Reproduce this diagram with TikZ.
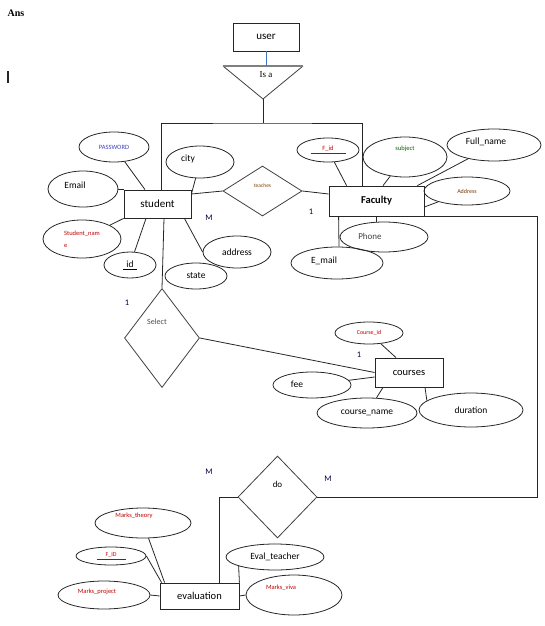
\documentclass[tikz,border=0pt]{standalone}
\usepackage{fontspec}
\setmainfont{Carlito}
\newfontfamily\timesfont{Liberation Serif}
\usetikzlibrary{shapes.geometric}
\definecolor{wordblue}{RGB}{68,114,196}
\begin{document}
\begin{tikzpicture}[x=1pt,y=-1pt,line width=0.8pt,draw=black!85,
    ent/.style={draw,rectangle,inner sep=0pt,font=\fontsize{10.5}{12}\selectfont},
    attr/.style={draw,ellipse,inner sep=0pt,font=\fontsize{9.5}{11}\selectfont},
    rel/.style={draw,diamond,inner sep=0pt,draw=black!75},
    small/.style={font=\fontsize{6.5}{12}\selectfont},
    lbl/.style={font=\fontsize{9.5}{11}\selectfont},
    slbl/.style={font=\fontsize{6.5}{8}\selectfont},
    card/.style={font=\fontsize{8.5}{10}\selectfont,text=blue!25!black}]
    \useasboundingbox (0,0) rectangle (544,626);
    %% heading
    \node[font=\timesfont\bfseries\fontsize{10}{12}\selectfont] (ans) at (16,13) {Ans};
    \draw[line width=2pt] (8,71) -- (8,83);
    %% entities
    \node[ent, minimum width=66, minimum height=28, font=\fontsize{11}{12}\selectfont] (user) at (266,37) {user};
    \node[ent, minimum width=67, minimum height=28, font=\fontsize{11}{12}\selectfont] (student) at (157.5,204) {student};
    \node[ent, minimum width=95, minimum height=30, font=\fontsize{10.5}{12}\selectfont\bfseries] (faculty) at (376.5,201) {Faculty};
    \node[ent, minimum width=68, minimum height=29] (courses) at (409,372.5) {courses};
    \node[ent, minimum width=79, minimum height=26] (evaluation) at (199.5,596) {evaluation};
    %% is a
    \coordinate (isaL) at (223,66);
    \coordinate (isaR) at (303,66);
    \coordinate (isa) at (263,99);
    \draw[black!75] (isaL) -- (isa) -- (isaR);
    \draw[gray, line width=2pt] (isaL) -- (isaR);
    \node[font=\timesfont\fontsize{9}{10}\selectfont] (isatext) at (266,75) {Is a};
    \draw[wordblue] (user.south) -- (user.south |- isaL);
    %% relationships
    \node[rel, minimum width=79, minimum height=50,
        label={[font=\fontsize{5.5}{6}\selectfont, text=orange!50!black, shift={(0,-5)}]center:teaches}] (teaches) at (262.5,191) {};
    \node[rel, minimum width=75, minimum height=99,
        label={[font=\fontsize{8}{9}\selectfont, text=black!70, shift={(-5,-16)}]center:Select}] (select) at (162,338) {};
    \node[rel, minimum width=79, minimum height=82,
        label={[font=\fontsize{9}{10}\selectfont, shift={(0,-13)}]center:do}] (do) at (277.5,497) {};
    %% student attributes
    \node[attr, small, text=blue!50!gray, minimum width=70, minimum height=30] (pwd) at (114,147) {PASSWORD};
    \node[attr, minimum width=70, minimum height=36, label={[lbl, shift={(-8,-4)}]center:Email}] (email) at (83,189) {};
    \node[attr, small, text=red!75!black, align=left, minimum width=78, minimum height=38] (sname) at (82,239) {Student\_nam\\e};
    \node[attr, minimum width=52, minimum height=26] (sid) at (130,265) {\underline{\makebox[14pt]{id}}};
    \node[attr, minimum width=68, minimum height=32, label={[lbl, shift={(-12,-3)}]center:city}] (city) at (200,162) {};
    \node[attr, minimum width=68, minimum height=32] (saddr) at (237,252) {address};
    \node[attr, minimum width=62, minimum height=26] (state) at (196,276) {state};
    %% faculty attributes
    \node[attr, small, text=red!75!black, minimum width=62, minimum height=24] (fid) at (328,150) {\underline{\makebox[35pt]{F\_id}}};
    \node[attr, minimum width=84, minimum height=40, label={[slbl, text=green!40!black, shift={(0,-8)}]center:subject}] (subj) at (405,157) {};
    \node[attr, minimum width=94, minimum height=32, label={[lbl, shift={(-8,-3)}]center:Full\_name}] (fname) at (494,145) {};
    \node[attr, small, text=orange!45!black, font=\fontsize{6}{7}\selectfont, minimum width=86, minimum height=28] (faddr) at (467,191) {Address};
    \node[attr, minimum width=88, minimum height=30, label={[font=\fontsize{9}{10}\selectfont, text=black!75, shift={(-14,-1)}]center:Phone}] (phone) at (384,237) {};
    \node[attr, minimum width=92, minimum height=32, label={[lbl, shift={(-13,-2)}]center:E\_mail}] (fmail) at (337,263) {};
    %% courses attributes
    \node[attr, small, text=red!75!black, font=\fontsize{6}{7}\selectfont, minimum width=68, minimum height=22] (cid) at (369,333) {Course\_id};
    \node[attr, minimum width=78, minimum height=26, label={[lbl, shift={(-15,-1)}]center:fee}] (fee) at (312,385) {};
    \node[attr, minimum width=100, minimum height=30] (cname) at (367,413) {course\_name};
    \node[attr, minimum width=104, minimum height=34] (dur) at (471,410) {duration};
    %% evaluation attributes
    \node[attr, minimum width=96, minimum height=30, label={[slbl, text=red!75!black, shift={(-9,-7)}]center:Marks\_theory}] (mth) at (143,523) {};
    \node[attr, small, text=red!75!black, font=\fontsize{6}{7}\selectfont, minimum width=70, minimum height=18] (fid2) at (111,556) {\underline{\makebox[29pt]{F\_ID}}};
    \node[attr, minimum width=92, minimum height=28, label={[slbl, text=red!75!black, shift={(-7,-3)}]center:Marks\_project}] (mproj) at (104,595) {};
    \node[attr, minimum width=98, minimum height=26] (evt) at (275,557) {Eval\_teacher};
    \node[attr, minimum width=96, minimum height=40, label={[slbl, text=red!75!black, shift={(-13,-7)}]center:Marks\_viva}] (mviva) at (294,595) {};
    %% cardinalities
    \foreach \n/\x/\y/\t in {one1/127/303/1, one2/311/212/1, one3/359/355/1,
                             many1/209/218/M, many2/209/472/M, many3/328/479/M}
        \node[card] (\n) at (\x,\y) {\t};
    %% is a links
    \draw (isa) -- ++(0,24) coordinate (split);
    \draw ([xshift=3.5]student.north) |- (split) -| ([xshift=-14.5]faculty.north);
    %% relationship links
    \draw ([yshift=10]student.east) -- (teaches.west);
    \draw (teaches.east) -- ([yshift=7]faculty.west);
    \draw ([xshift=6.5]student.south) -- (select.north);
    \draw (select.east) -- (courses.west);
    \draw (faculty.south east) -- ++(113,0) |- (do.east);
    \draw (do.west) -| ([xshift=19.5]evaluation.north);
    %% attribute links
    \draw (pwd) -- ([xshift=-12.5]student.north);
    \draw (email.east) -- (email.east -| student.west);
    \draw (sname) -- (student.south west);
    \draw (sid) -- ([xshift=-11.5]student.south);
    \draw (city) -- ([yshift=10]student.east);
    \draw ([xshift=-7]student.south east) -- (saddr.west);
    \draw (fid) -- ([xshift=18]faculty.north west);
    \draw (subj) -- ([xshift=6.5]faculty.north);
    \draw (fname) -- ([xshift=-7]faculty.north east);
    \draw (faddr) -- ([yshift=-6]faculty.east);
    \draw (faculty.south) -- (faculty.south |- phone.north);
    \draw ([xshift=10]faculty.south west) -- ([xshift=2]fmail.north);
    \draw (cid) -- ([xshift=-13]courses.north);
    \draw (fee) -- ([yshift=-4.5]courses.west);
    \draw ([xshift=-26]courses.south) -- (cname);
    \draw ([xshift=16]courses.south) -- (dur.168);
    \draw (mth) -- ([xshift=5]evaluation.north west);
    \draw (fid2.east) -- ([xshift=2]evaluation.north west);
    \draw (mproj.east) -- (evaluation.west);
    \draw (evaluation.north east) -- (evt.194);
    \draw (evaluation.east) -- (mviva.west);
\end{tikzpicture}
\end{document}
